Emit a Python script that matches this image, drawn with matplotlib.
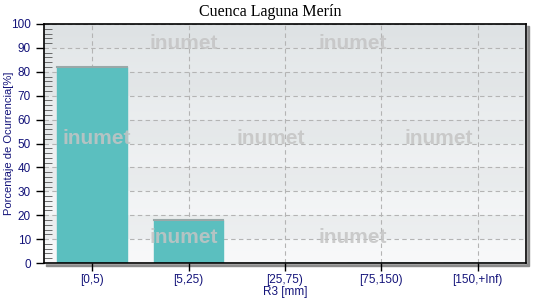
import numpy as np
import matplotlib
matplotlib.use("Agg")
import matplotlib.pyplot as plt
from matplotlib.patches import Rectangle

clases = ["[0,5)", "[5,25)", "[25,75)", "[75,150)", "[150,+Inf)"]
porcentaje = [81.8, 18.2, 0, 0, 0]

plt.rcParams['font.family'] = ['Liberation Sans', 'DejaVu Sans']
azul = '#14147a'

fig = plt.figure(figsize=(5.4, 3.0), dpi=100)
ax = fig.add_axes([44/540, 1 - 263/300, 482/540, 239/300])
ax.set_xlim(-0.5, 4.5)
ax.set_ylim(0, 100)

# fondo con degradado y bandas alternas
grad = np.linspace(0, 1, 200).reshape(-1, 1)
ax.imshow(grad, extent=(-0.5, 4.5, 0, 100), aspect='auto', origin='lower',
          cmap=matplotlib.colors.LinearSegmentedColormap.from_list('f', ['#f8f9fa', '#e2e6e8']),
          zorder=0)
for y0 in range(0, 100, 20):
    ax.axhspan(y0 + 10, y0 + 20, color='#d8dcde', alpha=0.3, lw=0, zorder=0.5)

ax.grid(True, ls=(0, (4, 3)), color='#b4b4b4', lw=0.8, zorder=1)
ax.set_axisbelow(True)

bars = ax.bar(range(len(clases)), porcentaje, width=0.72, color='#5bbfbf',
              edgecolor='#5bbfbf', zorder=2)
for b, v in zip(bars, porcentaje):
    if v > 0:
        ax.plot([b.get_x(), b.get_x() + b.get_width()], [v, v], color='#9aa8a8', lw=1.5, zorder=3)

# marcas de agua
for x, y in [(0.95, 92), (2.7, 92), (0.05, 52), (1.85, 52), (3.6, 52), (0.95, 10.5), (2.7, 10.5)]:
    ax.text(x, y, 'inumet', fontsize=15, fontweight='bold', color='#c4c4c4', alpha=0.85,
            ha='center', va='center', zorder=4)

# sombra
fig.patches.append(Rectangle((46/540, 1 - 266/300), 483/540, 240/300, transform=fig.transFigure,
                             color='#8c8c8c', zorder=-1))
fig.patches.append(Rectangle((44/540, 1 - 263/300), 482/540, 239/300, transform=fig.transFigure,
                             color='white', zorder=-0.5))

for s in ax.spines.values():
    s.set_linewidth(1.2)
    s.set_color('black')

ax.set_xticks(range(len(clases)))
ax.set_xticklabels(clases)
ax.set_yticks(range(0, 101, 10))
ax.set_yticks(range(0, 101, 2), minor=True)
ax.tick_params(axis='y', which='minor', direction='in', length=6, color='#555555')
ax.tick_params(axis='both', which='major', length=6, labelsize=8.5, labelcolor=azul, width=1)
ax.tick_params(axis='x', which='major', pad=2)
ax.tick_params(axis='x', which='minor', bottom=False)

ax.set_xlabel('R3 [mm]', fontsize=8.5, color=azul, labelpad=0)
ax.set_ylabel('Porcentaje de Ocurrencia[%]', fontsize=8, color=azul)
ax.yaxis.set_label_coords(-0.062, 0.5)
fig.suptitle('Cuenca Laguna Merín', fontfamily='Liberation Serif', fontsize=11.5, y=0.985)

fig.savefig('out.png', dpi=100)
